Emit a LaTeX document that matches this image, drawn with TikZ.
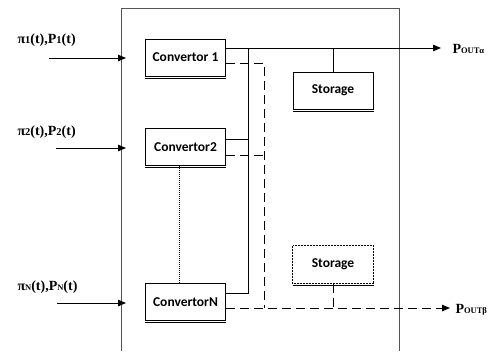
\documentclass[tikz,border=0pt]{standalone}
\usepackage{fontspec}
\setmainfont{Liberation Serif}
\newfontfamily\boxfont{Carlito}
\usetikzlibrary{arrows.meta,calc}
\definecolor{shade}{RGB}{200,222,242}
\definecolor{frame}{RGB}{85,85,85}
\begin{document}
\begin{tikzpicture}[x=1pt,y=-1pt, line width=1pt,
  unit/.style={draw, fill=white, minimum width=80pt, minimum height=37pt, inner sep=0pt,
    font=\boxfont\bfseries\fontsize{13.5}{15}\selectfont},
  lbl/.style={font=\bfseries\fontsize{14}{16}\selectfont, anchor=base west, inner sep=0pt},
  dsh/.style={dash pattern=on 9pt off 5pt},
  tip/.style={-{Triangle[length=8pt,width=6.5pt]}}]
\useasboundingbox (0,0) rectangle (492,351);
% outer frame
\draw[frame] (121,351) -- (121,8) -- (399,8) -- (399,351);
% units
\node[unit] (c1) at (185.5,57.5) {Convertor 1};
\node[unit] (c2) at (185.5,147) {Convertor2};
\node[unit] (cn) at (185.5,302) {ConvertorN};
\node[unit] (s1) at (333,90.5) {Storage};
\node[unit, draw=none] (s2) at (333,264.5) {Storage};
\draw[line width=0.7pt, dash pattern=on 2pt off 1pt] (s2.north west) rectangle (s2.south east);
\foreach \n in {c1,c2,cn,s1,s2}
  \draw[shade, line width=0.6pt] ([yshift=-1.6pt]\n.south west) -- ([yshift=-1.6pt]\n.south east);
% input labels
\node[lbl] (l1) at (17,43) {π{\fontsize{10.5}{12}\selectfont 1}(t),P{\fontsize{10.5}{12}\selectfont 1}(t)};
\node[lbl] (l2) at (17,135) {π{\fontsize{10.5}{12}\selectfont 2}(t),P{\fontsize{10.5}{12}\selectfont 2}(t)};
\node[lbl] (ln) at (17,290) {π{\fontsize{8.5}{10}\selectfont N}(t),P{\fontsize{8.5}{10}\selectfont N}(t)};
% input arrows
\coordinate (a1) at (49,58);  \coordinate (e1) at (126,58);
\coordinate (a2) at (56,148); \coordinate (e2) at (126,148);
\coordinate (an) at (57,303); \coordinate (en) at (126,303);
\draw[tip] (a1) -- (e1);
\draw[tip] (a2) -- (e2);
\draw[tip] (an) -- (en);
% solid bus
\coordinate (bt) at (248,48);
\coordinate (bb) at (248,293);
\coordinate (oa) at (441,48);
\draw[tip] ([yshift=9.5pt]c1.east) -- (oa);
\draw (bt) -- (bb) -- ([yshift=9pt]cn.east);
\draw ([yshift=8pt]c2.east) -- ([yshift=8pt]c2.east -| bt);
\draw (s1.north) -- (s1.north |- bt);
% dashed bus
\coordinate (dt) at (264,63);
\coordinate (db) at (264,308);
\coordinate (ob) at (450,308);
\draw[dsh] ([yshift=-5.5pt]c1.east) -- (dt) -- (db);
\draw[dsh] ([yshift=-8pt]c2.east) -- ([yshift=-8pt]c2.east -| dt);
\draw[dsh,tip] ([yshift=-6pt]cn.east) -- (ob);
\draw[dsh] (s2.south) -- (s2.south |- ob);
% dotted link
\draw[line width=0.9pt, dash pattern=on 0.8pt off 1.2pt] ([xshift=-6.5pt]c2.south) -- ([xshift=-6.5pt]cn.north);
% outputs
\node[lbl] (pa) at (452,53) {P{\fontsize{8.5}{10}\selectfont OUTα}};
\node[lbl] (pb) at (455,313) {P{\fontsize{8.5}{10}\selectfont OUTβ}};
\end{tikzpicture}
\end{document}
